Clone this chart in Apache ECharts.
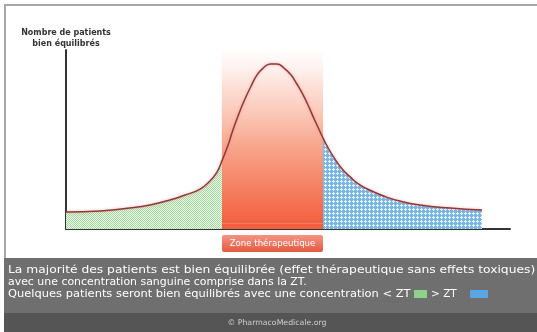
<!DOCTYPE html>
<html><head><meta charset="utf-8">
<script src="https://cdn.jsdelivr.net/npm/echarts@6/dist/echarts.min.js"></script>
<style>html,body{margin:0;padding:0;background:#fff}#c{width:537px;height:332px}</style>
</head><body><div id="c"></div>
<script>
// concentration (x, 0..100) and number of well-balanced patients (y, 0..100)
const conc     = [0, 7.7, 14.4, 18.9, 23.4, 26.8, 30.2, 32.4, 34, 35.1, 36.5, 37.6, 39, 40.3, 41.7, 43, 44.4, 46, 47.5, 49.1, 50.7, 52, 53.4, 54.7, 56.1, 57.9, 58.8, 60.4, 62.2, 64, 66.2, 68.9, 72.1, 75.2, 79.7, 86.5, 93.7];
const patients = [9.5, 10.1, 11.7, 13.4, 16.2, 19, 22.3, 26.8, 31.8, 38, 46.9, 55.3, 64.8, 72.6, 79.9, 86, 89.9, 92.2, 92.2, 89.9, 86, 81, 74.9, 68.2, 60.3, 50.8, 46.4, 39.7, 33.5, 29.1, 24.6, 21.2, 17.9, 15.6, 13.4, 11.7, 10.6];
const ztMin = 35.1, ztMax = 57.9;
const yLabel = 'Nombre de patients\nbien équilibrés';
const ztLabel = 'Zone thérapeutique';
const textLines = [
  'La majorité des patients est bien équilibrée (effet thérapeutique sans effets toxiques)',
  'avec une concentration sanguine comprise dans la ZT.',
  'Quelques patients seront bien équilibrés avec une concentration < ZT'
];
const aboveZT = '> ZT';
const footer = '© PharmacoMedicale.org';

function pattern(bg, fg, kind){
  const c = document.createElement('canvas'); c.width = 4; c.height = 4;
  const g = c.getContext('2d'); g.fillStyle = bg; g.fillRect(0,0,4,4); g.fillStyle = fg;
  if (kind === 'check'){ g.fillRect(0,0,1,1); g.fillRect(2,0,1,1); g.fillRect(1,1,1,1); g.fillRect(3,1,1,1);
    g.fillRect(0,2,1,1); g.fillRect(2,2,1,1); g.fillRect(1,3,1,1); g.fillRect(3,3,1,1); }
  else { g.fillRect(1,0,1,3); g.fillRect(0,1,3,1); }
  return {image: c, repeat: 'repeat'};
}
const pts = conc.map((x,i)=>[x, patients[i]]);
const green = pts.filter(p=>p[0] <= ztMin);
const blue = pts.filter(p=>p[0] >= ztMax);

const chart = echarts.init(document.getElementById('c'), null, {renderer:'canvas'});
const font = 'DejaVu Sans';
chart.setOption({
  animation:false,
  grid:{left:66, top:50, width:444, height:179},
  xAxis:{type:'value', min:0, max:100, axisLine:{lineStyle:{color:'#333', width:2}}, axisTick:{show:false}, axisLabel:{show:false}, splitLine:{show:false}},
  yAxis:{type:'value', min:0, max:100, axisLine:{show:true, lineStyle:{color:'#333', width:2}}, axisTick:{show:false}, axisLabel:{show:false}, splitLine:{show:false}},
  graphic:[
    {type:'rect', z:-10, silent:true, shape:{x:5,y:5,width:540,height:340}, style:{fill:'#fff', stroke:'#a8a8a8', lineWidth:2}},
    {type:'rect', z:-5, shape:{x:4,y:258,width:540,height:55}, style:{fill:'#6f6f6f'}},
    {type:'rect', z:-5, shape:{x:4,y:313,width:540,height:20}, style:{fill:'#555555'}},
    {type:'text', style:{x:66, y:28, text:yLabel, fill:'#333', font:'bold 8px '+font, align:'center', lineHeight:10.5}},
    {type:'rect', shape:{x:222,y:235,width:101,height:17,r:2}, style:{fill:new echarts.graphic.LinearGradient(0,0,0,1,[{offset:0,color:'#f49482'},{offset:1,color:'#e45a42'}])}},
    {type:'text', style:{x:272.5, y:243.5, text:ztLabel, fill:'#fff', font:'8.6px '+font, align:'center', verticalAlign:'middle'}},
    {type:'text', x:8, y:270, scaleX:1.17, style:{x:0, y:0, text:textLines[0], fill:'#fff', font:'10.5px '+font, verticalAlign:'middle'}},
    {type:'text', x:8, y:282, scaleX:1.04, style:{x:0, y:0, text:textLines[1], fill:'#fff', font:'10.5px '+font, verticalAlign:'middle'}},
    {type:'text', x:8, y:294, scaleX:1.09, style:{x:0, y:0, text:textLines[2], fill:'#fff', font:'10.5px '+font, verticalAlign:'middle'}},
    {type:'rect', shape:{x:414,y:290,width:13,height:8}, style:{fill:'#8fd08a'}},
    {type:'text', style:{x:431, y:294, text:aboveZT, fill:'#fff', font:'10.5px '+font, verticalAlign:'middle'}},
    {type:'rect', shape:{x:470,y:290,width:18,height:8}, style:{fill:'#5aa6e0'}},
    {type:'text', style:{x:277, y:322.5, text:footer, fill:'#d0d0d0', font:'7.8px '+font, align:'center', verticalAlign:'middle'}}
  ],
  series:[
    {type:'line', data:[], markArea:{silent:true, itemStyle:{color:new echarts.graphic.LinearGradient(0,0,0,1,[
      {offset:0,color:'rgba(252,210,200,0.03)'},{offset:0.2,color:'rgba(250,180,160,0.4)'},{offset:0.55,color:'#f8a68c'},{offset:1,color:'#f2603f'}])},
      data:[[{xAxis:ztMin, yAxis:3 }, {xAxis:ztMax, yAxis:100}]]}},
    {type:'line', data:[], markArea:{silent:true, itemStyle:{color:'#f2603f'}, data:[[{xAxis:ztMin, yAxis:0}, {xAxis:ztMax, yAxis:3}]]}},
    {type:'line', data:green, smooth:0.5, symbol:'none', lineStyle:{width:0}, areaStyle:{color:pattern('#eef8ec','#9fd89a','check'), opacity:1}},
    {type:'line', data:blue, smooth:0.5, symbol:'none', lineStyle:{width:0}, areaStyle:{color:pattern('#78b6e3','#e8f4fc','cross'), opacity:1}},
    {type:'line', data:pts, smooth:0.5, symbol:'none', z:5, lineStyle:{color:'#8e3a3a', width:1.5, shadowColor:'rgba(240,120,120,0.6)', shadowBlur:3}}
  ]
});
</script></body></html>
